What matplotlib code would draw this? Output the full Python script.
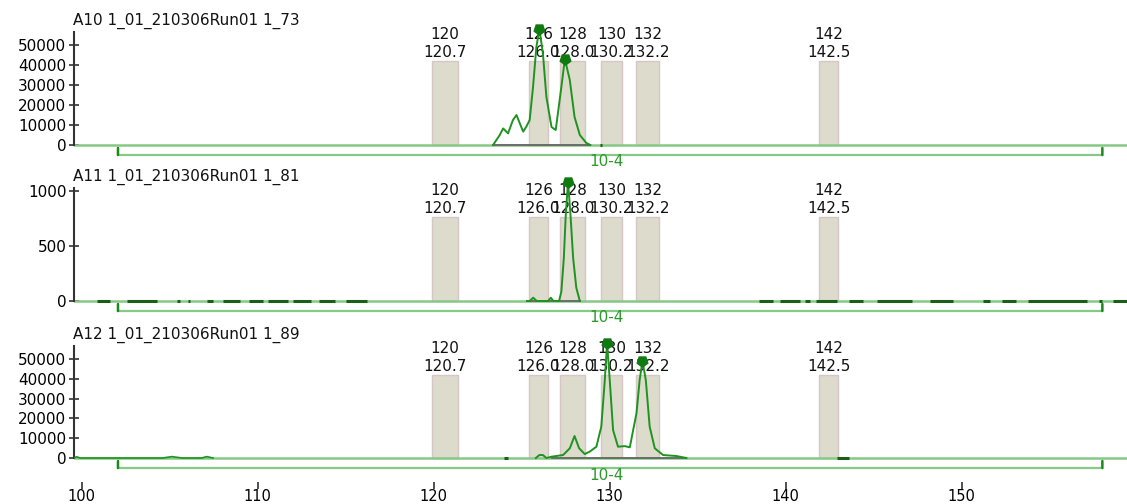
import matplotlib
matplotlib.use('Agg')
import matplotlib.pyplot as plt
import matplotlib.transforms as mtransforms

# bins (allele calls)
bin_names = ['120', '126', '128', '130', '132', '142']
bin_sizes = ['120.7', '126.0', '128.0', '130.2', '132.2', '142.5']
bin_left = [119.9, 125.4, 127.2, 129.5, 131.5, 141.9]
bin_right = [121.4, 126.5, 128.6, 130.7, 132.8, 143.0]

sample_names = ['A10 1_01_210306Run01 1_73',
                'A11 1_01_210306Run01 1_81',
                'A12 1_01_210306Run01 1_89']
y_max = [56500, 1027, 56560]
y_ticks = [[0, 10000, 20000, 30000, 40000, 50000],
           [0, 500, 1000],
           [0, 10000, 20000, 30000, 40000, 50000]]

# traces
a10_x = [123.37, 123.75, 123.94, 124.22, 124.5, 124.7, 124.89, 125.08, 125.26, 125.45,
         125.64, 125.83, 126.0, 126.2, 126.4, 126.69, 126.93, 127.25, 127.45, 127.73,
         128.0, 128.3, 128.67, 128.9]
a10_y = [0, 5000, 8300, 5800, 12500, 15000, 10800, 6700, 9200, 12500,
         29000, 49000, 58000, 46000, 24000, 9000, 7500, 29000, 43000, 32500,
         14000, 5000, 1000, 0]
a10_peaks_x = [126.0, 127.45]
a10_peaks_y = [58000, 43000]

a11_x = [125.3, 125.45, 125.65, 125.85, 126.2, 126.5, 126.65, 126.8, 127.12, 127.25,
         127.39, 127.5, 127.63, 127.77, 127.92, 128.1, 128.3]
a11_y = [0, 0, 30, 0, 0, 0, 30, 0, 0, 85,
         390, 780, 1085, 780, 390, 120, 0]
a11_peaks_x = [127.63]
a11_peaks_y = [1085]
a11_noise = [(100.85, 101.6), (102.55, 104.25), (105.4, 105.55), (106.05, 106.15),
             (107.1, 107.45), (108.0, 109.0), (109.5, 110.3), (110.6, 111.7),
             (112.0, 113.0), (113.5, 114.4), (115.0, 116.2),
             (138.5, 139.3), (139.7, 140.8), (141.1, 141.4), (141.75, 142.9),
             (143.6, 144.4), (145.2, 147.2), (148.2, 149.5), (151.2, 151.6),
             (152.3, 153.1), (153.75, 157.1), (157.8, 158.0), (158.6, 159.4)]

a12_x = [125.8, 126.0, 126.2, 126.4, 126.69, 127.35, 127.73, 128.0, 128.26, 128.58,
         128.86, 129.24, 129.52, 129.72, 129.85, 130.0, 130.19, 130.47, 130.85, 131.14,
         131.52, 131.7, 131.86, 132.05, 132.27, 132.56, 133.03, 133.79, 134.36]
a12_y = [0, 1500, 1500, 0, 650, 1500, 4900, 11100, 4900, 2000,
         3200, 5700, 15800, 39400, 58000, 39400, 14100, 5700, 6000, 5400,
         22600, 39400, 49000, 39400, 15800, 4900, 1500, 1000, 0]
a12_peaks_x = [129.85, 131.86]
a12_peaks_y = [58000, 49000]
a12_bumps_x = [99.55, 99.7, 99.9, 104.6, 105.1, 105.7, 106.8, 107.1, 107.45]
a12_bumps_y = [0, 600, 0, 0, 700, 0, 0, 700, 0]

traces = [(a10_x, a10_y), (a11_x, a11_y), (a12_x, a12_y)]
peaks = [(a10_peaks_x, a10_peaks_y), (a11_peaks_x, a11_peaks_y), (a12_peaks_x, a12_peaks_y)]
base_ranges = [(123.37, 128.9), (125.3, 128.3), (126.7, 134.36)]
dark_dashes = [[(129.45, 129.55)], a11_noise, [(124.0, 124.2), (142.9, 143.6)]]

x_lo, x_hi = 99.55, 159.4
bracket_lo, bracket_hi = 102.05, 158.0
bracket_text = '10-4'

fig = plt.figure(figsize=(11.27, 5.04), dpi=100)
W, H = 1127.0, 504.0
# (top px, bottom px) of each panel
panel_px = [(32, 170), (188, 325), (346, 482)]
zero_px = [145, 301, 458]

trace_col = '#1f931f'
light_green = '#86c986'
bin_face = '#dcdbcc'
bin_edge = '#d6c6c6'
fs = 11

for i in range(3):
	top, bot = panel_px[i]
	ax = fig.add_axes([74 / W, 1 - bot / H, 1 - 74 / W, (bot - top) / H])
	ymax = y_max[i]
	per_px = ymax / (zero_px[i] - top)
	ax.set_xlim(x_lo, x_hi)
	ax.set_ylim(-(bot - zero_px[i]) * per_px, ymax)

	for s in ['top', 'right', 'bottom']:
		ax.spines[s].set_visible(False)
	ax.spines['left'].set_bounds(0, ymax)
	ax.spines['left'].set_color('#333333')
	ax.spines['left'].set_linewidth(1.5)
	ax.set_yticks(y_ticks[i])
	ax.set_yticklabels([str(t) for t in y_ticks[i]])
	ax.tick_params(axis='y', direction='inout', length=7, width=1.2, color='#333333',
	               labelsize=fs, pad=2)

	# bins
	btop = 0.74 * ymax
	for j in range(len(bin_names)):
		ax.fill_between([bin_left[j], bin_right[j]], 0, btop, facecolor=bin_face,
		                edgecolor=bin_edge, linewidth=1.0, zorder=1)
		xc = (bin_left[j] + bin_right[j]) / 2
		ax.annotate(bin_names[j], (xc, btop), xytext=(0, 19), textcoords='offset points',
		            ha='center', va='center', fontsize=fs, color='#111111')
		ax.annotate(bin_sizes[j], (xc, btop), xytext=(0, 6.5), textcoords='offset points',
		            ha='center', va='center', fontsize=fs, color='#111111')

	# baseline
	ax.axhline(0, color=light_green, lw=1.8, zorder=2)
	ax.plot(base_ranges[i], [0, 0], color='#666666', lw=1.3, zorder=3)
	for a, b in dark_dashes[i]:
		ax.plot([a, b], [0, 0], color='#1a5e1a', lw=2.2, zorder=3, solid_capstyle='butt')
	if i == 2:
		ax.plot(a12_bumps_x, a12_bumps_y, color=trace_col, lw=1.2, zorder=4)

	# trace + peak markers
	tx, ty = traces[i]
	ax.plot(tx, ty, color=trace_col, lw=1.4, zorder=5, clip_on=False)
	px, py = peaks[i]
	ax.plot(px, py, linestyle='none', marker=(5, 0, 180), markersize=8,
	        color='#0f7a0f', zorder=6, clip_on=False)

	# bracket below the panel
	off = mtransforms.offset_copy(ax.transData, fig=fig, x=0, y=-10, units='dots')
	ax.plot([bracket_lo, bracket_hi], [0, 0], color=light_green, lw=1.6, transform=off,
	        clip_on=False)
	up = mtransforms.offset_copy(ax.transData, fig=fig, x=0, y=-3, units='dots')
	for bx in [bracket_lo, bracket_hi]:
		ax.annotate('', xy=(bx, 0), xycoords=off, xytext=(bx, 0), textcoords=up,
		            arrowprops=dict(arrowstyle='-', color='#1a8a1a', lw=1.8,
		                            shrinkA=0, shrinkB=0))
	lab = mtransforms.offset_copy(ax.transData, fig=fig, x=0, y=-17, units='dots')
	ax.text(129.8, 0, bracket_text, transform=lab, ha='center', va='center',
	        fontsize=fs, color='#2a9a2a')

	ax.annotate(sample_names[i], (0, 1), xycoords='axes fraction', xytext=(-1, 5),
	            textcoords='offset points', ha='left', va='baseline', fontsize=fs,
	            color='#111111')

	if i == 2:
		ax.set_xticks([100, 110, 120, 130, 140, 150])
		ax.tick_params(axis='x', direction='out', length=5, width=1.2, color='#333333',
		               labelsize=10.5, pad=0)
	else:
		ax.set_xticks([])

fig.text(606 / W, 1.008, bracket_text, ha='center', va='center', fontsize=fs, color='#2a9a2a')

fig.savefig('out.png', dpi=100)
